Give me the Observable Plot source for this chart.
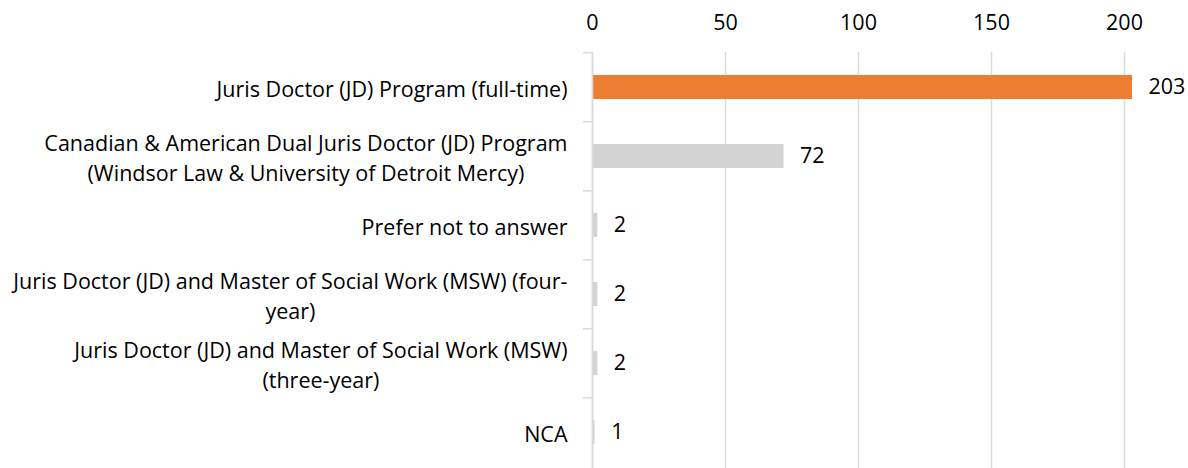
<!DOCTYPE html>
<html>
<head>
<meta charset="utf-8">
<script src="https://cdn.jsdelivr.net/npm/d3@7"></script>
<script src="https://cdn.jsdelivr.net/npm/@observablehq/plot@0.6"></script>
<style>
  html, body { margin: 0; padding: 0; background: #fff; }
</style>
</head>
<body>
<div id="chart"></div>
<script>
const categories = [
  "Juris Doctor (JD) Program (full-time)",
  "Canadian & American Dual Juris Doctor (JD) Program (Windsor Law & University of Detroit Mercy)",
  "Prefer not to answer",
  "Juris Doctor (JD) and Master of Social Work (MSW) (four-year)",
  "Juris Doctor (JD) and Master of Social Work (MSW) (three-year)",
  "NCA"
];
const labelLines = [
  "Juris Doctor (JD) Program (full-time)",
  "Canadian & American Dual Juris Doctor (JD) Program\n(Windsor Law & University of Detroit Mercy)",
  "Prefer not to answer",
  "Juris Doctor (JD) and Master of Social Work (MSW) (four-\nyear)",
  "Juris Doctor (JD) and Master of Social Work (MSW)\n(three-year)",
  "NCA"
];
const values = [203, 72, 2, 2, 2, 1];
const xTicks = [0, 50, 100, 150, 200];
const highlight = [true, false, false, false, false, false];

const data = categories.map((c, i) => ({cat: c, value: values[i], label: labelLines[i], hi: highlight[i]}));

const FONT = "Open Sans";
const FS = 21.5;
const W = 1188, H = 468;
const mTop = 52, mBottom = 0, mLeft = 592, mRight = 64;
const step = (H - mTop - mBottom) / categories.length;

const canvas = document.createElement("canvas");
const ctx = canvas.getContext("2d");
ctx.font = `${FS}px "${FONT}"`;
const blockWidth = s => Math.max(...s.split("\n").map(l => ctx.measureText(l).width));

const labelMarks = data.map(d => Plot.text([d], {
  x: () => 0,
  y: "cat",
  text: "label",
  textAnchor: "middle",
  lineHeight: 1.4,
  dx: -25 - blockWidth(d.label) / 2,
  fill: "#000"
}));

const chart = Plot.plot({
  width: W,
  height: H,
  marginTop: mTop,
  marginBottom: mBottom,
  marginLeft: mLeft,
  marginRight: mRight,
  style: {fontFamily: `"${FONT}"`, fontSize: FS + "px", color: "#000", background: "#fff"},
  x: {domain: [0, 200], ticks: xTicks, label: null},
  y: {domain: categories, paddingInner: 0.65, paddingOuter: 0.325, label: null},
  marks: [
    Plot.gridX(xTicks, {stroke: "#d9d9d9", strokeOpacity: 1, strokeWidth: 1.5}),
    Plot.axisX(xTicks, {anchor: "top", tickSize: 0, tickPadding: 23, fontSize: FS, fill: "#000"}),
    Plot.axisY({tickSize: 9, tickFormat: () => "", dy: -step / 2, stroke: "#d9d9d9", strokeWidth: 1.5}),
    Plot.barX(data, {x: "value", y: "cat", fill: d => d.hi ? "#ED7D31" : "#D3D3D3"}),
    Plot.ruleX([0], {stroke: "#d9d9d9", strokeWidth: 1.5}),
    Plot.text(data, {x: "value", y: "cat", text: d => String(d.value), textAnchor: "start", dx: 16, fill: "#000"}),
    ...labelMarks
  ]
});
document.getElementById("chart").appendChild(chart);
</script>
</body>
</html>
